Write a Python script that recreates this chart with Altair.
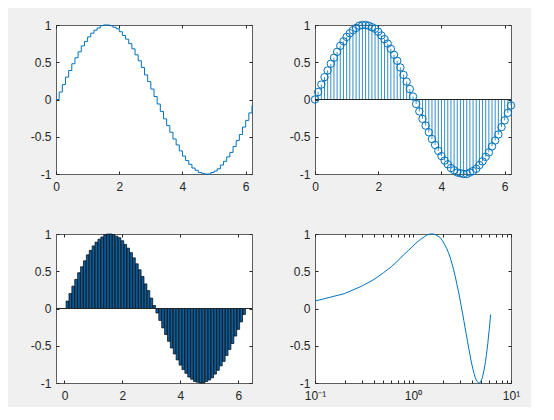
import altair as alt
import pandas as pd

# sample positions and sine values
X = [0.0, 0.1, 0.2, 0.3, 0.4, 0.5, 0.6, 0.7, 0.8, 0.9,
     1.0, 1.1, 1.2, 1.3, 1.4, 1.5, 1.6, 1.7, 1.8, 1.9,
     2.0, 2.1, 2.2, 2.3, 2.4, 2.5, 2.6, 2.7, 2.8, 2.9,
     3.0, 3.1, 3.2, 3.3, 3.4, 3.5, 3.6, 3.7, 3.8, 3.9,
     4.0, 4.1, 4.2, 4.3, 4.4, 4.5, 4.6, 4.7, 4.8, 4.9,
     5.0, 5.1, 5.2, 5.3, 5.4, 5.5, 5.6, 5.7, 5.8, 5.9,
     6.0, 6.1, 6.2]
Y = [0.00, 0.10, 0.20, 0.30, 0.39, 0.48, 0.56, 0.64, 0.72, 0.78,
     0.84, 0.89, 0.93, 0.96, 0.99, 1.00, 1.00, 0.99, 0.97, 0.95,
     0.91, 0.86, 0.81, 0.75, 0.68, 0.60, 0.52, 0.43, 0.33, 0.24,
     0.14, 0.04, -0.06, -0.16, -0.26, -0.35, -0.44, -0.53, -0.61, -0.69,
     -0.76, -0.82, -0.87, -0.92, -0.95, -0.98, -0.99, -1.00, -1.00, -0.98,
     -0.96, -0.93, -0.88, -0.83, -0.77, -0.71, -0.63, -0.55, -0.47, -0.37,
     -0.28, -0.18, -0.08]

Y_TICKS = [-1, -0.5, 0, 0.5, 1]
LIN_TICKS = [0, 2, 4, 6]
LOG_TICKS = [0.1, 0.2, 0.3, 0.4, 0.5, 0.6, 0.7, 0.8, 0.9,
             1, 2, 3, 4, 5, 6, 7, 8, 9, 10]
LOG_LABELS = ["10⁻¹", "10⁰", "10¹"]

df = pd.DataFrame({"x": X, "y": Y})
df_log = df[df["x"] > 0]

BLUE = "#0072BD"
TXT = "#262626"
FONT = "Liberation Sans"
FS = 12
W, H = 196, 149
TICK = {"expr": "-3"}

yscale = alt.Scale(domain=[-1, 1], nice=False, zero=False)


def bottom_axis(values, label_expr="'' + datum.value"):
    return alt.Axis(values=values, title=None, grid=False, domain=False,
                    tickSize=TICK, tickColor=TXT, labelColor=TXT,
                    labelFont=FONT, labelFontSize=FS, labelPadding=10,
                    labelExpr=label_expr, labelFlush=False, labelOverlap=False)


left_axis = alt.Axis(values=Y_TICKS, title=None, grid=False, domain=False,
                     tickSize=TICK, tickColor=TXT, labelColor=TXT,
                     labelFont=FONT, labelFontSize=FS, labelPadding=8,
                     labelExpr="'' + datum.value", labelFlush=False)


def top_axis(values):
    return alt.Axis(orient="top", values=values, title=None, grid=False,
                    domain=False, labels=False, tickSize=TICK, tickColor=TXT)


right_axis = alt.Axis(orient="right", values=Y_TICKS, title=None, grid=False,
                      domain=False, labels=False, tickSize=TICK, tickColor=TXT)


def panel(layers, data, xscale, xticks):
    box = alt.Chart(data).mark_point(opacity=0).encode(
        x=alt.X("x:Q", scale=xscale, axis=top_axis(xticks)),
        y=alt.Y("y:Q", scale=yscale, axis=right_axis),
    )
    return alt.layer(*layers, box).resolve_axis(
        x="independent", y="independent"
    ).properties(width=W, height=H)


# --- top left: stairs
xs1 = alt.Scale(domain=[0, 6.2], nice=False, zero=False)
stairs = alt.Chart(df).mark_line(interpolate="step-after", color=BLUE,
                                 strokeWidth=1).encode(
    x=alt.X("x:Q", scale=xs1, axis=bottom_axis(LIN_TICKS)),
    y=alt.Y("y:Q", scale=yscale, axis=left_axis),
)
p1 = panel([stairs], df, xs1, LIN_TICKS)

# --- top right: stem
xs2 = alt.Scale(domain=[0, 6.2], nice=False, zero=False)
stems = alt.Chart(df).mark_rule(color=BLUE, strokeWidth=0.8).encode(
    x=alt.X("x:Q", scale=xs2, axis=bottom_axis(LIN_TICKS)),
    y=alt.Y("y:Q", scale=yscale, axis=left_axis),
    y2=alt.datum(0),
)
base2 = alt.Chart(df).mark_rule(color=TXT, strokeWidth=1).encode(
    y=alt.Y(datum=0, scale=yscale, axis=None),
)
circles = alt.Chart(df).mark_point(shape="circle", filled=False, size=55,
                                   color=BLUE, strokeWidth=1, opacity=1).encode(
    x=alt.X("x:Q", scale=xs2, axis=None),
    y=alt.Y("y:Q", scale=yscale, axis=None),
)
p2 = panel([stems, base2, circles], df, xs2, LIN_TICKS)

# --- bottom left: bar
xs3 = alt.Scale(domain=[-0.12, 6.3], nice=False, zero=False)
bars = alt.Chart(df).mark_bar(size=2.6, color="#0a5fa0", stroke="black",
                              strokeWidth=0.7, orient="vertical").encode(
    x=alt.X("x:Q", scale=xs3, axis=bottom_axis(LIN_TICKS)),
    y=alt.Y("y:Q", scale=yscale, axis=left_axis),
    y2=alt.datum(0),
)
base3 = alt.Chart(df).mark_rule(color=TXT, strokeWidth=1).encode(
    y=alt.Y(datum=0, scale=yscale, axis=None),
)
p3 = panel([bars, base3], df, xs3, LIN_TICKS)

# --- bottom right: semilogx
xs4 = alt.Scale(type="log", domain=[0.1, 10], nice=False, zero=False)
log_expr = ("datum.value == 0.1 ? '%s' : datum.value == 1 ? '%s' : "
            "datum.value == 10 ? '%s' : ''") % tuple(LOG_LABELS)
logline = alt.Chart(df_log).mark_line(color=BLUE, strokeWidth=1).encode(
    x=alt.X("x:Q", scale=xs4, axis=bottom_axis(LOG_TICKS, log_expr)),
    y=alt.Y("y:Q", scale=yscale, axis=left_axis),
)
p4 = panel([logline], df_log, xs4, LOG_TICKS)

chart = alt.concat(p1, p2, p3, p4, columns=2,
                   spacing={"row": 60, "column": 63}, bounds="flush").properties(
    background="#f0f0f0",
    padding={"left": 21, "top": 10, "right": 10, "bottom": 5},
).configure_view(stroke="#5e5e5e", strokeWidth=1, fill="white")

chart.save("out.html", embed_options={"renderer": "svg", "actions": False})
